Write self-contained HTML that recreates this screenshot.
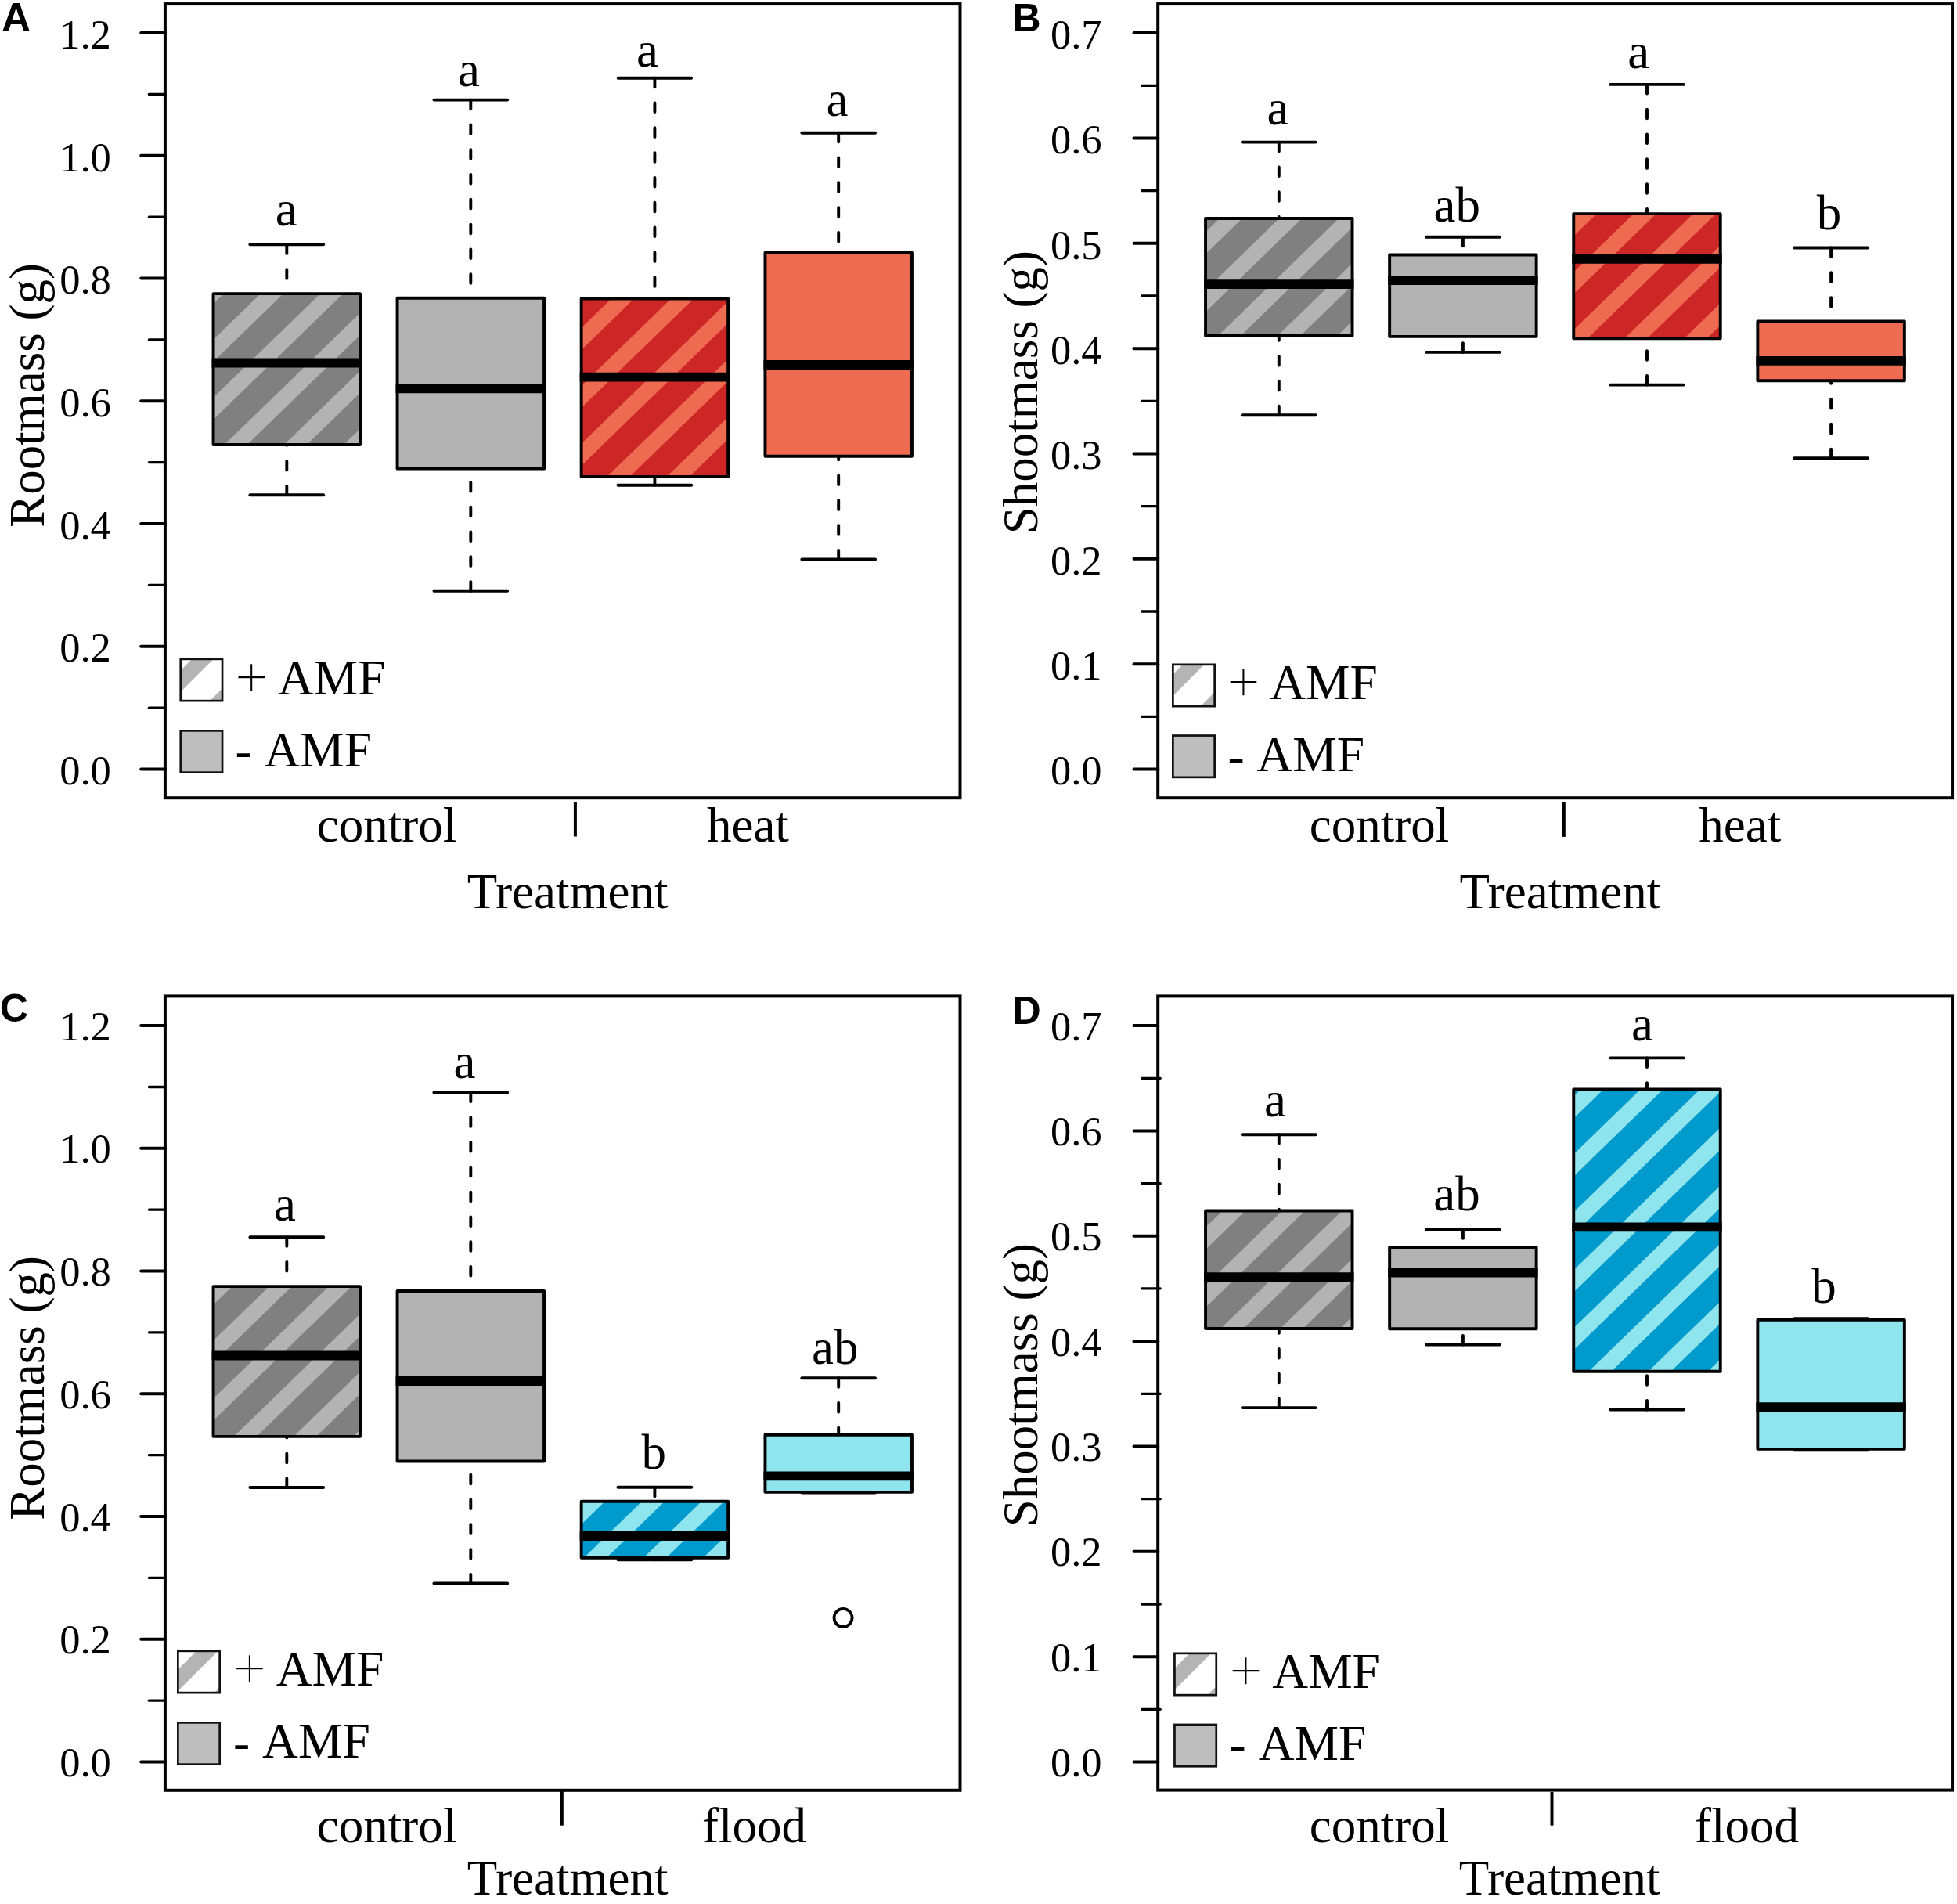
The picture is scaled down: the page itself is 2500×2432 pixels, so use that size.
<!DOCTYPE html>
<html lang="en">
<head>
<meta charset="utf-8">
<title>Root and shoot mass boxplots</title>
<style>html,body{margin:0;padding:0;background:#fff}svg{display:block}</style>
</head>
<body>
<svg width="2500" height="2432" viewBox="0 0 2500 2432">
<rect width="2500" height="2432" fill="#fff"/>
<defs>
<clipPath id="c1"><rect x="272.55" y="375.15" width="187.5" height="192.8"/></clipPath>
<clipPath id="c2"><rect x="742.65" y="381.55" width="187.5" height="227.5"/></clipPath>
<clipPath id="c3"><rect x="230.75" y="841.85" width="53.3" height="53.3"/></clipPath>
<clipPath id="c4"><rect x="1540.05" y="278.95" width="187.5" height="150.1"/></clipPath>
<clipPath id="c5"><rect x="2010.25" y="273.15" width="187.5" height="159.1"/></clipPath>
<clipPath id="c6"><rect x="1498.35" y="848.85" width="53.3" height="53.3"/></clipPath>
<clipPath id="c7"><rect x="272.55" y="1643.15" width="187.5" height="191.7"/></clipPath>
<clipPath id="c8"><rect x="742.65" y="1917.75" width="187.5" height="72.1"/></clipPath>
<clipPath id="c9"><rect x="227.35" y="2108.85" width="53.3" height="53.3"/></clipPath>
<clipPath id="c10"><rect x="1540.05" y="1546.45" width="187.5" height="150.6"/></clipPath>
<clipPath id="c11"><rect x="2010.25" y="1391.55" width="187.5" height="360.2"/></clipPath>
<clipPath id="c12"><rect x="1500.45" y="2111.85" width="53.3" height="53.3"/></clipPath>
</defs>
<rect x="210.9" y="5.1" width="1015.6" height="1014.1" fill="none" stroke="#000" stroke-width="4"/>
<line x1="180.2" y1="982.5" x2="210.9" y2="982.5" stroke="#000" stroke-width="4" stroke-linecap="round"/>
<text x="141.8" y="1002.2" font-family='"Liberation Serif", "Times New Roman", Times, serif' font-size="52.5" font-weight="normal" text-anchor="end">0.0</text>
<line x1="190.4" y1="904.13" x2="210.9" y2="904.13" stroke="#000" stroke-width="3.3" stroke-linecap="round"/>
<line x1="180.2" y1="825.77" x2="210.9" y2="825.77" stroke="#000" stroke-width="4" stroke-linecap="round"/>
<text x="141.8" y="845.47" font-family='"Liberation Serif", "Times New Roman", Times, serif' font-size="52.5" font-weight="normal" text-anchor="end">0.2</text>
<line x1="190.4" y1="747.4" x2="210.9" y2="747.4" stroke="#000" stroke-width="3.3" stroke-linecap="round"/>
<line x1="180.2" y1="669.04" x2="210.9" y2="669.04" stroke="#000" stroke-width="4" stroke-linecap="round"/>
<text x="141.8" y="688.74" font-family='"Liberation Serif", "Times New Roman", Times, serif' font-size="52.5" font-weight="normal" text-anchor="end">0.4</text>
<line x1="190.4" y1="590.67" x2="210.9" y2="590.67" stroke="#000" stroke-width="3.3" stroke-linecap="round"/>
<line x1="180.2" y1="512.31" x2="210.9" y2="512.31" stroke="#000" stroke-width="4" stroke-linecap="round"/>
<text x="141.8" y="532.01" font-family='"Liberation Serif", "Times New Roman", Times, serif' font-size="52.5" font-weight="normal" text-anchor="end">0.6</text>
<line x1="190.4" y1="433.95" x2="210.9" y2="433.95" stroke="#000" stroke-width="3.3" stroke-linecap="round"/>
<line x1="180.2" y1="355.58" x2="210.9" y2="355.58" stroke="#000" stroke-width="4" stroke-linecap="round"/>
<text x="141.8" y="375.28" font-family='"Liberation Serif", "Times New Roman", Times, serif' font-size="52.5" font-weight="normal" text-anchor="end">0.8</text>
<line x1="190.4" y1="277.22" x2="210.9" y2="277.22" stroke="#000" stroke-width="3.3" stroke-linecap="round"/>
<line x1="180.2" y1="198.85" x2="210.9" y2="198.85" stroke="#000" stroke-width="4" stroke-linecap="round"/>
<text x="141.8" y="218.55" font-family='"Liberation Serif", "Times New Roman", Times, serif' font-size="52.5" font-weight="normal" text-anchor="end">1.0</text>
<line x1="190.4" y1="120.49" x2="210.9" y2="120.49" stroke="#000" stroke-width="3.3" stroke-linecap="round"/>
<line x1="180.2" y1="42.12" x2="210.9" y2="42.12" stroke="#000" stroke-width="4" stroke-linecap="round"/>
<text x="141.8" y="61.82" font-family='"Liberation Serif", "Times New Roman", Times, serif' font-size="52.5" font-weight="normal" text-anchor="end">1.2</text>
<text x="2" y="40.2" font-family='"Liberation Sans", Arial, Helvetica, sans-serif' font-size="51.5" font-weight="bold" text-anchor="start">A</text>
<text x="55.5" y="505" font-family='"Liberation Serif", "Times New Roman", Times, serif' font-size="63" font-weight="normal" text-anchor="middle" transform="rotate(-90 55.5 505)">Rootmass (g)</text>
<line x1="366.3" y1="312.3" x2="366.3" y2="375.15" stroke="#000" stroke-width="3.9" stroke-linecap="round" stroke-dasharray="11.6 20.2"/>
<line x1="366.3" y1="632.3" x2="366.3" y2="567.95" stroke="#000" stroke-width="3.9" stroke-linecap="round" stroke-dasharray="11.6 20.2"/>
<line x1="319.43" y1="312.3" x2="413.18" y2="312.3" stroke="#000" stroke-width="3.9" stroke-linecap="round"/>
<line x1="319.43" y1="632.3" x2="413.18" y2="632.3" stroke="#000" stroke-width="3.9" stroke-linecap="round"/>
<rect x="272.55" y="375.15" width="187.5" height="192.8" fill="#808080"/>
<g clip-path="url(#c1)" stroke="#b3b3b3" stroke-width="20.2">
<line x1="225.94" y1="345.15" x2="-34.45" y2="597.95"/>
<line x1="302.14" y1="345.15" x2="41.75" y2="597.95"/>
<line x1="378.34" y1="345.15" x2="117.95" y2="597.95"/>
<line x1="454.54" y1="345.15" x2="194.15" y2="597.95"/>
<line x1="530.74" y1="345.15" x2="270.35" y2="597.95"/>
<line x1="606.94" y1="345.15" x2="346.55" y2="597.95"/>
<line x1="683.14" y1="345.15" x2="422.75" y2="597.95"/>
<line x1="759.34" y1="345.15" x2="498.95" y2="597.95"/>
</g>
<rect x="272.55" y="375.15" width="187.5" height="192.8" fill="none" stroke="#000" stroke-width="3.9" stroke-linejoin="round"/>
<line x1="270.6" y1="463.5" x2="462" y2="463.5" stroke="#000" stroke-width="11.8" stroke-linecap="butt"/>
<line x1="601.3" y1="127.6" x2="601.3" y2="380.75" stroke="#000" stroke-width="3.9" stroke-linecap="round" stroke-dasharray="11.6 20.2"/>
<line x1="601.3" y1="754.7" x2="601.3" y2="598.65" stroke="#000" stroke-width="3.9" stroke-linecap="round" stroke-dasharray="11.6 20.2"/>
<line x1="554.42" y1="127.6" x2="648.17" y2="127.6" stroke="#000" stroke-width="3.9" stroke-linecap="round"/>
<line x1="554.42" y1="754.7" x2="648.17" y2="754.7" stroke="#000" stroke-width="3.9" stroke-linecap="round"/>
<rect x="507.55" y="380.75" width="187.5" height="217.9" fill="#b3b3b3" stroke="#000" stroke-width="3.9" stroke-linejoin="round"/>
<line x1="505.6" y1="496.3" x2="697" y2="496.3" stroke="#000" stroke-width="11.8" stroke-linecap="butt"/>
<line x1="836.4" y1="99.7" x2="836.4" y2="381.55" stroke="#000" stroke-width="3.9" stroke-linecap="round" stroke-dasharray="11.6 20.2"/>
<line x1="836.4" y1="619.7" x2="836.4" y2="609.05" stroke="#000" stroke-width="3.9" stroke-linecap="round" stroke-dasharray="11.6 20.2"/>
<line x1="789.52" y1="99.7" x2="883.27" y2="99.7" stroke="#000" stroke-width="3.9" stroke-linecap="round"/>
<line x1="789.52" y1="619.7" x2="883.27" y2="619.7" stroke="#000" stroke-width="3.9" stroke-linecap="round"/>
<rect x="742.65" y="381.55" width="187.5" height="227.5" fill="#cd2626"/>
<g clip-path="url(#c2)" stroke="#ee6a50" stroke-width="20.2">
<line x1="674" y1="351.55" x2="377.88" y2="639.05"/>
<line x1="750.2" y1="351.55" x2="454.08" y2="639.05"/>
<line x1="826.4" y1="351.55" x2="530.28" y2="639.05"/>
<line x1="902.6" y1="351.55" x2="606.48" y2="639.05"/>
<line x1="978.8" y1="351.55" x2="682.68" y2="639.05"/>
<line x1="1055" y1="351.55" x2="758.88" y2="639.05"/>
<line x1="1131.2" y1="351.55" x2="835.08" y2="639.05"/>
<line x1="1207.4" y1="351.55" x2="911.28" y2="639.05"/>
<line x1="1283.6" y1="351.55" x2="987.48" y2="639.05"/>
</g>
<rect x="742.65" y="381.55" width="187.5" height="227.5" fill="none" stroke="#000" stroke-width="3.9" stroke-linejoin="round"/>
<line x1="740.7" y1="481.6" x2="932.1" y2="481.6" stroke="#000" stroke-width="11.8" stroke-linecap="butt"/>
<line x1="1071.2" y1="169.7" x2="1071.2" y2="322.65" stroke="#000" stroke-width="3.9" stroke-linecap="round" stroke-dasharray="11.6 20.2"/>
<line x1="1071.2" y1="714.5" x2="1071.2" y2="582.75" stroke="#000" stroke-width="3.9" stroke-linecap="round" stroke-dasharray="11.6 20.2"/>
<line x1="1024.33" y1="169.7" x2="1118.08" y2="169.7" stroke="#000" stroke-width="3.9" stroke-linecap="round"/>
<line x1="1024.33" y1="714.5" x2="1118.08" y2="714.5" stroke="#000" stroke-width="3.9" stroke-linecap="round"/>
<rect x="977.45" y="322.65" width="187.5" height="260.1" fill="#ee6a50" stroke="#000" stroke-width="3.9" stroke-linejoin="round"/>
<line x1="975.5" y1="466" x2="1166.9" y2="466" stroke="#000" stroke-width="11.8" stroke-linecap="butt"/>
<text x="365.8" y="287.8" font-family='"Liberation Serif", "Times New Roman", Times, serif' font-size="63" font-weight="normal" text-anchor="middle">a</text>
<text x="598.9" y="109.8" font-family='"Liberation Serif", "Times New Roman", Times, serif' font-size="63" font-weight="normal" text-anchor="middle">a</text>
<text x="827" y="84.8" font-family='"Liberation Serif", "Times New Roman", Times, serif' font-size="63" font-weight="normal" text-anchor="middle">a</text>
<text x="1069.6" y="148" font-family='"Liberation Serif", "Times New Roman", Times, serif' font-size="63" font-weight="normal" text-anchor="middle">a</text>
<rect x="230.75" y="841.85" width="53.3" height="53.3" fill="#fff"/>
<rect x="230.75" y="841.85" width="53.3" height="53.3" fill="#fff"/>
<g clip-path="url(#c3)" stroke="#b4b4b4" stroke-width="19.45">
<line x1="212.75" y1="811.85" x2="99.45" y2="925.15"/>
<line x1="288.95" y1="811.85" x2="175.65" y2="925.15"/>
<line x1="365.15" y1="811.85" x2="251.85" y2="925.15"/>
<line x1="441.35" y1="811.85" x2="328.05" y2="925.15"/>
</g>
<rect x="230.75" y="841.85" width="53.3" height="53.3" fill="none" stroke="#111" stroke-width="2.7"/>
<rect x="230.75" y="933.35" width="53.3" height="53.3" fill="#bebebe" stroke="#111" stroke-width="2.7"/>
<text x="299.8" y="886.7" font-family='"Liberation Serif", "Times New Roman", Times, serif' font-size="63.5"><tspan font-size="76" dy="3.0" stroke="#fff" stroke-width="1.7">+ </tspan><tspan x="355" dy="-3.0">AMF</tspan></text>
<text x="300.4" y="978.7" font-family='"Liberation Serif", "Times New Roman", Times, serif' font-size="63.5"><tspan dy="1.4">- </tspan><tspan x="337.5" dy="-1.4">AMF</tspan></text>
<line x1="734.9" y1="1024" x2="734.9" y2="1068.5" stroke="#000" stroke-width="4" stroke-linecap="butt"/>
<text x="494" y="1075" font-family='"Liberation Serif", "Times New Roman", Times, serif' font-size="63" font-weight="normal" text-anchor="middle">control</text>
<text x="955.4" y="1074.7" font-family='"Liberation Serif", "Times New Roman", Times, serif' font-size="63" font-weight="normal" text-anchor="middle">heat</text>
<text x="725.2" y="1160" font-family='"Liberation Serif", "Times New Roman", Times, serif' font-size="63" font-weight="normal" text-anchor="middle">Treatment</text>
<rect x="1479.2" y="5.1" width="1014.85" height="1014.1" fill="none" stroke="#000" stroke-width="4"/>
<line x1="1448.5" y1="982.5" x2="1479.2" y2="982.5" stroke="#000" stroke-width="4" stroke-linecap="round"/>
<text x="1407.5" y="1002.2" font-family='"Liberation Serif", "Times New Roman", Times, serif' font-size="52.5" font-weight="normal" text-anchor="end">0.0</text>
<line x1="1458.7" y1="915.33" x2="1479.2" y2="915.33" stroke="#000" stroke-width="3.3" stroke-linecap="round"/>
<line x1="1448.5" y1="848.16" x2="1479.2" y2="848.16" stroke="#000" stroke-width="4" stroke-linecap="round"/>
<text x="1407.5" y="867.86" font-family='"Liberation Serif", "Times New Roman", Times, serif' font-size="52.5" font-weight="normal" text-anchor="end">0.1</text>
<line x1="1458.7" y1="780.99" x2="1479.2" y2="780.99" stroke="#000" stroke-width="3.3" stroke-linecap="round"/>
<line x1="1448.5" y1="713.82" x2="1479.2" y2="713.82" stroke="#000" stroke-width="4" stroke-linecap="round"/>
<text x="1407.5" y="733.52" font-family='"Liberation Serif", "Times New Roman", Times, serif' font-size="52.5" font-weight="normal" text-anchor="end">0.2</text>
<line x1="1458.7" y1="646.65" x2="1479.2" y2="646.65" stroke="#000" stroke-width="3.3" stroke-linecap="round"/>
<line x1="1448.5" y1="579.48" x2="1479.2" y2="579.48" stroke="#000" stroke-width="4" stroke-linecap="round"/>
<text x="1407.5" y="599.18" font-family='"Liberation Serif", "Times New Roman", Times, serif' font-size="52.5" font-weight="normal" text-anchor="end">0.3</text>
<line x1="1458.7" y1="512.31" x2="1479.2" y2="512.31" stroke="#000" stroke-width="3.3" stroke-linecap="round"/>
<line x1="1448.5" y1="445.14" x2="1479.2" y2="445.14" stroke="#000" stroke-width="4" stroke-linecap="round"/>
<text x="1407.5" y="464.84" font-family='"Liberation Serif", "Times New Roman", Times, serif' font-size="52.5" font-weight="normal" text-anchor="end">0.4</text>
<line x1="1458.7" y1="377.97" x2="1479.2" y2="377.97" stroke="#000" stroke-width="3.3" stroke-linecap="round"/>
<line x1="1448.5" y1="310.8" x2="1479.2" y2="310.8" stroke="#000" stroke-width="4" stroke-linecap="round"/>
<text x="1407.5" y="330.5" font-family='"Liberation Serif", "Times New Roman", Times, serif' font-size="52.5" font-weight="normal" text-anchor="end">0.5</text>
<line x1="1458.7" y1="243.63" x2="1479.2" y2="243.63" stroke="#000" stroke-width="3.3" stroke-linecap="round"/>
<line x1="1448.5" y1="176.46" x2="1479.2" y2="176.46" stroke="#000" stroke-width="4" stroke-linecap="round"/>
<text x="1407.5" y="196.16" font-family='"Liberation Serif", "Times New Roman", Times, serif' font-size="52.5" font-weight="normal" text-anchor="end">0.6</text>
<line x1="1458.7" y1="109.29" x2="1479.2" y2="109.29" stroke="#000" stroke-width="3.3" stroke-linecap="round"/>
<line x1="1448.5" y1="42.12" x2="1479.2" y2="42.12" stroke="#000" stroke-width="4" stroke-linecap="round"/>
<text x="1407.5" y="61.82" font-family='"Liberation Serif", "Times New Roman", Times, serif' font-size="52.5" font-weight="normal" text-anchor="end">0.7</text>
<text x="1293.3" y="40.2" font-family='"Liberation Sans", Arial, Helvetica, sans-serif' font-size="50.5" font-weight="bold" text-anchor="start">B</text>
<text x="1325" y="501.1" font-family='"Liberation Serif", "Times New Roman", Times, serif' font-size="63" font-weight="normal" text-anchor="middle" transform="rotate(-90 1325 501.1)">Shootmass (g)</text>
<line x1="1633.8" y1="181.6" x2="1633.8" y2="278.95" stroke="#000" stroke-width="3.9" stroke-linecap="round" stroke-dasharray="11.6 20.2"/>
<line x1="1633.8" y1="530.2" x2="1633.8" y2="429.05" stroke="#000" stroke-width="3.9" stroke-linecap="round" stroke-dasharray="11.6 20.2"/>
<line x1="1586.92" y1="181.6" x2="1680.67" y2="181.6" stroke="#000" stroke-width="3.9" stroke-linecap="round"/>
<line x1="1586.92" y1="530.2" x2="1680.67" y2="530.2" stroke="#000" stroke-width="3.9" stroke-linecap="round"/>
<rect x="1540.05" y="278.95" width="187.5" height="150.1" fill="#808080"/>
<g clip-path="url(#c4)" stroke="#b3b3b3" stroke-width="20.2">
<line x1="1527.23" y1="248.95" x2="1310.83" y2="459.05"/>
<line x1="1603.43" y1="248.95" x2="1387.03" y2="459.05"/>
<line x1="1679.63" y1="248.95" x2="1463.23" y2="459.05"/>
<line x1="1755.83" y1="248.95" x2="1539.43" y2="459.05"/>
<line x1="1832.03" y1="248.95" x2="1615.63" y2="459.05"/>
<line x1="1908.23" y1="248.95" x2="1691.83" y2="459.05"/>
<line x1="1984.43" y1="248.95" x2="1768.03" y2="459.05"/>
</g>
<rect x="1540.05" y="278.95" width="187.5" height="150.1" fill="none" stroke="#000" stroke-width="3.9" stroke-linejoin="round"/>
<line x1="1538.1" y1="363.1" x2="1729.5" y2="363.1" stroke="#000" stroke-width="11.8" stroke-linecap="butt"/>
<line x1="1868.9" y1="302.7" x2="1868.9" y2="325.45" stroke="#000" stroke-width="3.9" stroke-linecap="round" stroke-dasharray="11.6 20.2"/>
<line x1="1868.9" y1="449.9" x2="1868.9" y2="429.85" stroke="#000" stroke-width="3.9" stroke-linecap="round" stroke-dasharray="11.6 20.2"/>
<line x1="1822.03" y1="302.7" x2="1915.78" y2="302.7" stroke="#000" stroke-width="3.9" stroke-linecap="round"/>
<line x1="1822.03" y1="449.9" x2="1915.78" y2="449.9" stroke="#000" stroke-width="3.9" stroke-linecap="round"/>
<rect x="1775.15" y="325.45" width="187.5" height="104.4" fill="#b3b3b3" stroke="#000" stroke-width="3.9" stroke-linejoin="round"/>
<line x1="1773.2" y1="358.2" x2="1964.6" y2="358.2" stroke="#000" stroke-width="11.8" stroke-linecap="butt"/>
<line x1="2104" y1="107.9" x2="2104" y2="273.15" stroke="#000" stroke-width="3.9" stroke-linecap="round" stroke-dasharray="11.6 20.2"/>
<line x1="2104" y1="491.6" x2="2104" y2="432.25" stroke="#000" stroke-width="3.9" stroke-linecap="round" stroke-dasharray="11.6 20.2"/>
<line x1="2057.12" y1="107.9" x2="2150.88" y2="107.9" stroke="#000" stroke-width="3.9" stroke-linecap="round"/>
<line x1="2057.12" y1="491.6" x2="2150.88" y2="491.6" stroke="#000" stroke-width="3.9" stroke-linecap="round"/>
<rect x="2010.25" y="273.15" width="187.5" height="159.1" fill="#cd2626"/>
<g clip-path="url(#c5)" stroke="#ee6a50" stroke-width="20.2">
<line x1="1979.73" y1="243.15" x2="1754.05" y2="462.25"/>
<line x1="2055.93" y1="243.15" x2="1830.25" y2="462.25"/>
<line x1="2132.13" y1="243.15" x2="1906.45" y2="462.25"/>
<line x1="2208.33" y1="243.15" x2="1982.65" y2="462.25"/>
<line x1="2284.53" y1="243.15" x2="2058.85" y2="462.25"/>
<line x1="2360.73" y1="243.15" x2="2135.05" y2="462.25"/>
<line x1="2436.93" y1="243.15" x2="2211.25" y2="462.25"/>
</g>
<rect x="2010.25" y="273.15" width="187.5" height="159.1" fill="none" stroke="#000" stroke-width="3.9" stroke-linejoin="round"/>
<line x1="2008.3" y1="330.8" x2="2199.7" y2="330.8" stroke="#000" stroke-width="11.8" stroke-linecap="butt"/>
<line x1="2339.1" y1="316.5" x2="2339.1" y2="410.45" stroke="#000" stroke-width="3.9" stroke-linecap="round" stroke-dasharray="11.6 20.2"/>
<line x1="2339.1" y1="585.2" x2="2339.1" y2="486.25" stroke="#000" stroke-width="3.9" stroke-linecap="round" stroke-dasharray="11.6 20.2"/>
<line x1="2292.22" y1="316.5" x2="2385.97" y2="316.5" stroke="#000" stroke-width="3.9" stroke-linecap="round"/>
<line x1="2292.22" y1="585.2" x2="2385.97" y2="585.2" stroke="#000" stroke-width="3.9" stroke-linecap="round"/>
<rect x="2245.35" y="410.45" width="187.5" height="75.8" fill="#ee6a50" stroke="#000" stroke-width="3.9" stroke-linejoin="round"/>
<line x1="2243.4" y1="460.8" x2="2434.8" y2="460.8" stroke="#000" stroke-width="11.8" stroke-linecap="butt"/>
<text x="1632.4" y="158.9" font-family='"Liberation Serif", "Times New Roman", Times, serif' font-size="63" font-weight="normal" text-anchor="middle">a</text>
<text x="1861.3" y="283.2" font-family='"Liberation Serif", "Times New Roman", Times, serif' font-size="63" font-weight="normal" text-anchor="middle">ab</text>
<text x="2093.3" y="87" font-family='"Liberation Serif", "Times New Roman", Times, serif' font-size="63" font-weight="normal" text-anchor="middle">a</text>
<text x="2336.5" y="293.1" font-family='"Liberation Serif", "Times New Roman", Times, serif' font-size="63" font-weight="normal" text-anchor="middle">b</text>
<rect x="1498.35" y="848.85" width="53.3" height="53.3" fill="#fff"/>
<rect x="1498.35" y="848.85" width="53.3" height="53.3" fill="#fff"/>
<g clip-path="url(#c6)" stroke="#b4b4b4" stroke-width="19.45">
<line x1="1478.35" y1="818.85" x2="1365.05" y2="932.15"/>
<line x1="1554.55" y1="818.85" x2="1441.25" y2="932.15"/>
<line x1="1630.75" y1="818.85" x2="1517.45" y2="932.15"/>
<line x1="1706.95" y1="818.85" x2="1593.65" y2="932.15"/>
</g>
<rect x="1498.35" y="848.85" width="53.3" height="53.3" fill="none" stroke="#111" stroke-width="2.7"/>
<rect x="1498.35" y="939.55" width="53.3" height="53.3" fill="#bebebe" stroke="#111" stroke-width="2.7"/>
<text x="1567" y="893" font-family='"Liberation Serif", "Times New Roman", Times, serif' font-size="63.5"><tspan font-size="76" dy="3.0" stroke="#fff" stroke-width="1.7">+ </tspan><tspan x="1622.2" dy="-3.0">AMF</tspan></text>
<text x="1568.4" y="985.2" font-family='"Liberation Serif", "Times New Roman", Times, serif' font-size="63.5"><tspan dy="1.4">- </tspan><tspan x="1605.5" dy="-1.4">AMF</tspan></text>
<line x1="1997.8" y1="1024.2" x2="1997.8" y2="1068.9" stroke="#000" stroke-width="4" stroke-linecap="butt"/>
<text x="1762.1" y="1074.7" font-family='"Liberation Serif", "Times New Roman", Times, serif' font-size="63" font-weight="normal" text-anchor="middle">control</text>
<text x="2222.7" y="1074.7" font-family='"Liberation Serif", "Times New Roman", Times, serif' font-size="63" font-weight="normal" text-anchor="middle">heat</text>
<text x="1992.9" y="1160" font-family='"Liberation Serif", "Times New Roman", Times, serif' font-size="63" font-weight="normal" text-anchor="middle">Treatment</text>
<rect x="210.9" y="1272.4" width="1015.6" height="1014.4" fill="none" stroke="#000" stroke-width="4"/>
<line x1="180.2" y1="2250.5" x2="210.9" y2="2250.5" stroke="#000" stroke-width="4" stroke-linecap="round"/>
<text x="141.8" y="2269" font-family='"Liberation Serif", "Times New Roman", Times, serif' font-size="52.5" font-weight="normal" text-anchor="end">0.0</text>
<line x1="190.4" y1="2172.14" x2="210.9" y2="2172.14" stroke="#000" stroke-width="3.3" stroke-linecap="round"/>
<line x1="180.2" y1="2093.77" x2="210.9" y2="2093.77" stroke="#000" stroke-width="4" stroke-linecap="round"/>
<text x="141.8" y="2112.27" font-family='"Liberation Serif", "Times New Roman", Times, serif' font-size="52.5" font-weight="normal" text-anchor="end">0.2</text>
<line x1="190.4" y1="2015.4" x2="210.9" y2="2015.4" stroke="#000" stroke-width="3.3" stroke-linecap="round"/>
<line x1="180.2" y1="1937.04" x2="210.9" y2="1937.04" stroke="#000" stroke-width="4" stroke-linecap="round"/>
<text x="141.8" y="1955.54" font-family='"Liberation Serif", "Times New Roman", Times, serif' font-size="52.5" font-weight="normal" text-anchor="end">0.4</text>
<line x1="190.4" y1="1858.67" x2="210.9" y2="1858.67" stroke="#000" stroke-width="3.3" stroke-linecap="round"/>
<line x1="180.2" y1="1780.31" x2="210.9" y2="1780.31" stroke="#000" stroke-width="4" stroke-linecap="round"/>
<text x="141.8" y="1798.81" font-family='"Liberation Serif", "Times New Roman", Times, serif' font-size="52.5" font-weight="normal" text-anchor="end">0.6</text>
<line x1="190.4" y1="1701.94" x2="210.9" y2="1701.94" stroke="#000" stroke-width="3.3" stroke-linecap="round"/>
<line x1="180.2" y1="1623.58" x2="210.9" y2="1623.58" stroke="#000" stroke-width="4" stroke-linecap="round"/>
<text x="141.8" y="1642.08" font-family='"Liberation Serif", "Times New Roman", Times, serif' font-size="52.5" font-weight="normal" text-anchor="end">0.8</text>
<line x1="190.4" y1="1545.21" x2="210.9" y2="1545.21" stroke="#000" stroke-width="3.3" stroke-linecap="round"/>
<line x1="180.2" y1="1466.85" x2="210.9" y2="1466.85" stroke="#000" stroke-width="4" stroke-linecap="round"/>
<text x="141.8" y="1485.35" font-family='"Liberation Serif", "Times New Roman", Times, serif' font-size="52.5" font-weight="normal" text-anchor="end">1.0</text>
<line x1="190.4" y1="1388.48" x2="210.9" y2="1388.48" stroke="#000" stroke-width="3.3" stroke-linecap="round"/>
<line x1="180.2" y1="1310.12" x2="210.9" y2="1310.12" stroke="#000" stroke-width="4" stroke-linecap="round"/>
<text x="141.8" y="1328.62" font-family='"Liberation Serif", "Times New Roman", Times, serif' font-size="52.5" font-weight="normal" text-anchor="end">1.2</text>
<text x="-0.3" y="1305.4" font-family='"Liberation Sans", Arial, Helvetica, sans-serif' font-size="50.5" font-weight="bold" text-anchor="start">C</text>
<text x="55.5" y="1773" font-family='"Liberation Serif", "Times New Roman", Times, serif' font-size="63" font-weight="normal" text-anchor="middle" transform="rotate(-90 55.5 1773)">Rootmass (g)</text>
<line x1="366.3" y1="1580.2" x2="366.3" y2="1643.15" stroke="#000" stroke-width="3.9" stroke-linecap="round" stroke-dasharray="11.6 20.2"/>
<line x1="366.3" y1="1900" x2="366.3" y2="1834.85" stroke="#000" stroke-width="3.9" stroke-linecap="round" stroke-dasharray="11.6 20.2"/>
<line x1="319.43" y1="1580.2" x2="413.18" y2="1580.2" stroke="#000" stroke-width="3.9" stroke-linecap="round"/>
<line x1="319.43" y1="1900" x2="413.18" y2="1900" stroke="#000" stroke-width="3.9" stroke-linecap="round"/>
<rect x="272.55" y="1643.15" width="187.5" height="191.7" fill="#808080"/>
<g clip-path="url(#c7)" stroke="#b3b3b3" stroke-width="20.2">
<line x1="236.82" y1="1613.15" x2="-22.44" y2="1864.85"/>
<line x1="313.02" y1="1613.15" x2="53.76" y2="1864.85"/>
<line x1="389.22" y1="1613.15" x2="129.96" y2="1864.85"/>
<line x1="465.42" y1="1613.15" x2="206.16" y2="1864.85"/>
<line x1="541.62" y1="1613.15" x2="282.36" y2="1864.85"/>
<line x1="617.82" y1="1613.15" x2="358.56" y2="1864.85"/>
<line x1="694.02" y1="1613.15" x2="434.76" y2="1864.85"/>
<line x1="770.22" y1="1613.15" x2="510.96" y2="1864.85"/>
</g>
<rect x="272.55" y="1643.15" width="187.5" height="191.7" fill="none" stroke="#000" stroke-width="3.9" stroke-linejoin="round"/>
<line x1="270.6" y1="1731.5" x2="462" y2="1731.5" stroke="#000" stroke-width="11.8" stroke-linecap="butt"/>
<line x1="601.3" y1="1395.4" x2="601.3" y2="1648.95" stroke="#000" stroke-width="3.9" stroke-linecap="round" stroke-dasharray="11.6 20.2"/>
<line x1="601.3" y1="2022.5" x2="601.3" y2="1866.45" stroke="#000" stroke-width="3.9" stroke-linecap="round" stroke-dasharray="11.6 20.2"/>
<line x1="554.42" y1="1395.4" x2="648.17" y2="1395.4" stroke="#000" stroke-width="3.9" stroke-linecap="round"/>
<line x1="554.42" y1="2022.5" x2="648.17" y2="2022.5" stroke="#000" stroke-width="3.9" stroke-linecap="round"/>
<rect x="507.55" y="1648.95" width="187.5" height="217.5" fill="#b3b3b3" stroke="#000" stroke-width="3.9" stroke-linejoin="round"/>
<line x1="505.6" y1="1764" x2="697" y2="1764" stroke="#000" stroke-width="11.8" stroke-linecap="butt"/>
<line x1="836.4" y1="1899.7" x2="836.4" y2="1917.75" stroke="#000" stroke-width="3.9" stroke-linecap="round" stroke-dasharray="11.6 20.2"/>
<line x1="836.4" y1="1992.2" x2="836.4" y2="1989.85" stroke="#000" stroke-width="3.9" stroke-linecap="round" stroke-dasharray="11.6 20.2"/>
<line x1="789.52" y1="1899.7" x2="883.27" y2="1899.7" stroke="#000" stroke-width="3.9" stroke-linecap="round"/>
<line x1="789.52" y1="1992.2" x2="883.27" y2="1992.2" stroke="#000" stroke-width="3.9" stroke-linecap="round"/>
<rect x="742.65" y="1917.75" width="187.5" height="72.1" fill="#009acd"/>
<g clip-path="url(#c8)" stroke="#8ee5ee" stroke-width="20.2">
<line x1="713.04" y1="1887.75" x2="576.97" y2="2019.85"/>
<line x1="789.24" y1="1887.75" x2="653.17" y2="2019.85"/>
<line x1="865.44" y1="1887.75" x2="729.37" y2="2019.85"/>
<line x1="941.64" y1="1887.75" x2="805.57" y2="2019.85"/>
<line x1="1017.84" y1="1887.75" x2="881.77" y2="2019.85"/>
<line x1="1094.04" y1="1887.75" x2="957.97" y2="2019.85"/>
</g>
<rect x="742.65" y="1917.75" width="187.5" height="72.1" fill="none" stroke="#000" stroke-width="3.9" stroke-linejoin="round"/>
<line x1="740.7" y1="1962" x2="932.1" y2="1962" stroke="#000" stroke-width="11.8" stroke-linecap="butt"/>
<line x1="1071.2" y1="1760.2" x2="1071.2" y2="1832.75" stroke="#000" stroke-width="3.9" stroke-linecap="round" stroke-dasharray="11.6 20.2"/>
<line x1="1024.33" y1="1760.2" x2="1118.08" y2="1760.2" stroke="#000" stroke-width="3.9" stroke-linecap="round"/>
<line x1="1024.33" y1="1906.5" x2="1118.08" y2="1906.5" stroke="#000" stroke-width="3.9" stroke-linecap="round"/>
<rect x="977.45" y="1832.75" width="187.5" height="73.1" fill="#8ee5ee" stroke="#000" stroke-width="3.9" stroke-linejoin="round"/>
<line x1="975.5" y1="1885.3" x2="1166.9" y2="1885.3" stroke="#000" stroke-width="11.8" stroke-linecap="butt"/>
<circle cx="1077.05" cy="2066.4" r="11.5" fill="none" stroke="#000" stroke-width="3.8"/>
<text x="364" y="1559.4" font-family='"Liberation Serif", "Times New Roman", Times, serif' font-size="63" font-weight="normal" text-anchor="middle">a</text>
<text x="593.5" y="1376.5" font-family='"Liberation Serif", "Times New Roman", Times, serif' font-size="63" font-weight="normal" text-anchor="middle">a</text>
<text x="835.2" y="1876" font-family='"Liberation Serif", "Times New Roman", Times, serif' font-size="63" font-weight="normal" text-anchor="middle">b</text>
<text x="1066.7" y="1742" font-family='"Liberation Serif", "Times New Roman", Times, serif' font-size="63" font-weight="normal" text-anchor="middle">ab</text>
<rect x="227.35" y="2108.85" width="53.3" height="53.3" fill="#fff"/>
<rect x="227.35" y="2108.85" width="53.3" height="53.3" fill="#fff"/>
<g clip-path="url(#c9)" stroke="#b4b4b4" stroke-width="19.45">
<line x1="218.55" y1="2078.85" x2="105.25" y2="2192.15"/>
<line x1="294.75" y1="2078.85" x2="181.45" y2="2192.15"/>
<line x1="370.95" y1="2078.85" x2="257.65" y2="2192.15"/>
<line x1="447.15" y1="2078.85" x2="333.85" y2="2192.15"/>
</g>
<rect x="227.35" y="2108.85" width="53.3" height="53.3" fill="none" stroke="#111" stroke-width="2.7"/>
<rect x="227.35" y="2200.35" width="53.3" height="53.3" fill="#bebebe" stroke="#111" stroke-width="2.7"/>
<text x="297.5" y="2152.5" font-family='"Liberation Serif", "Times New Roman", Times, serif' font-size="63.5"><tspan font-size="76" dy="3.0" stroke="#fff" stroke-width="1.7">+ </tspan><tspan x="352.7" dy="-3.0">AMF</tspan></text>
<text x="298" y="2245.2" font-family='"Liberation Serif", "Times New Roman", Times, serif' font-size="63.5"><tspan dy="1.4">- </tspan><tspan x="335.1" dy="-1.4">AMF</tspan></text>
<line x1="717.8" y1="2287" x2="717.8" y2="2331.7" stroke="#000" stroke-width="4" stroke-linecap="butt"/>
<text x="494" y="2352.5" font-family='"Liberation Serif", "Times New Roman", Times, serif' font-size="63" font-weight="normal" text-anchor="middle">control</text>
<text x="963.6" y="2352.8" font-family='"Liberation Serif", "Times New Roman", Times, serif' font-size="63" font-weight="normal" text-anchor="middle">flood</text>
<text x="725.2" y="2419.7" font-family='"Liberation Serif", "Times New Roman", Times, serif' font-size="63" font-weight="normal" text-anchor="middle">Treatment</text>
<rect x="1479.2" y="1272.4" width="1014.85" height="1014.2" fill="none" stroke="#000" stroke-width="4"/>
<line x1="1448.5" y1="2250.5" x2="1479.2" y2="2250.5" stroke="#000" stroke-width="4" stroke-linecap="round"/>
<text x="1407.5" y="2269" font-family='"Liberation Serif", "Times New Roman", Times, serif' font-size="52.5" font-weight="normal" text-anchor="end">0.0</text>
<line x1="1458.7" y1="2183.33" x2="1482.2" y2="2183.33" stroke="#000" stroke-width="3.3" stroke-linecap="round"/>
<line x1="1448.5" y1="2116.16" x2="1479.2" y2="2116.16" stroke="#000" stroke-width="4" stroke-linecap="round"/>
<text x="1407.5" y="2134.66" font-family='"Liberation Serif", "Times New Roman", Times, serif' font-size="52.5" font-weight="normal" text-anchor="end">0.1</text>
<line x1="1458.7" y1="2048.99" x2="1482.2" y2="2048.99" stroke="#000" stroke-width="3.3" stroke-linecap="round"/>
<line x1="1448.5" y1="1981.82" x2="1479.2" y2="1981.82" stroke="#000" stroke-width="4" stroke-linecap="round"/>
<text x="1407.5" y="2000.32" font-family='"Liberation Serif", "Times New Roman", Times, serif' font-size="52.5" font-weight="normal" text-anchor="end">0.2</text>
<line x1="1458.7" y1="1914.65" x2="1482.2" y2="1914.65" stroke="#000" stroke-width="3.3" stroke-linecap="round"/>
<line x1="1448.5" y1="1847.48" x2="1479.2" y2="1847.48" stroke="#000" stroke-width="4" stroke-linecap="round"/>
<text x="1407.5" y="1865.98" font-family='"Liberation Serif", "Times New Roman", Times, serif' font-size="52.5" font-weight="normal" text-anchor="end">0.3</text>
<line x1="1458.7" y1="1780.31" x2="1482.2" y2="1780.31" stroke="#000" stroke-width="3.3" stroke-linecap="round"/>
<line x1="1448.5" y1="1713.14" x2="1479.2" y2="1713.14" stroke="#000" stroke-width="4" stroke-linecap="round"/>
<text x="1407.5" y="1731.64" font-family='"Liberation Serif", "Times New Roman", Times, serif' font-size="52.5" font-weight="normal" text-anchor="end">0.4</text>
<line x1="1458.7" y1="1645.97" x2="1482.2" y2="1645.97" stroke="#000" stroke-width="3.3" stroke-linecap="round"/>
<line x1="1448.5" y1="1578.8" x2="1479.2" y2="1578.8" stroke="#000" stroke-width="4" stroke-linecap="round"/>
<text x="1407.5" y="1597.3" font-family='"Liberation Serif", "Times New Roman", Times, serif' font-size="52.5" font-weight="normal" text-anchor="end">0.5</text>
<line x1="1458.7" y1="1511.63" x2="1482.2" y2="1511.63" stroke="#000" stroke-width="3.3" stroke-linecap="round"/>
<line x1="1448.5" y1="1444.46" x2="1479.2" y2="1444.46" stroke="#000" stroke-width="4" stroke-linecap="round"/>
<text x="1407.5" y="1462.96" font-family='"Liberation Serif", "Times New Roman", Times, serif' font-size="52.5" font-weight="normal" text-anchor="end">0.6</text>
<line x1="1458.7" y1="1377.29" x2="1482.2" y2="1377.29" stroke="#000" stroke-width="3.3" stroke-linecap="round"/>
<line x1="1448.5" y1="1310.12" x2="1479.2" y2="1310.12" stroke="#000" stroke-width="4" stroke-linecap="round"/>
<text x="1407.5" y="1328.62" font-family='"Liberation Serif", "Times New Roman", Times, serif' font-size="52.5" font-weight="normal" text-anchor="end">0.7</text>
<text x="1293.3" y="1308" font-family='"Liberation Sans", Arial, Helvetica, sans-serif' font-size="50.5" font-weight="bold" text-anchor="start">D</text>
<text x="1325" y="1769.1" font-family='"Liberation Serif", "Times New Roman", Times, serif' font-size="63" font-weight="normal" text-anchor="middle" transform="rotate(-90 1325 1769.1)">Shootmass (g)</text>
<line x1="1633.8" y1="1449.2" x2="1633.8" y2="1546.45" stroke="#000" stroke-width="3.9" stroke-linecap="round" stroke-dasharray="11.6 20.2"/>
<line x1="1633.8" y1="1798.1" x2="1633.8" y2="1697.05" stroke="#000" stroke-width="3.9" stroke-linecap="round" stroke-dasharray="11.6 20.2"/>
<line x1="1586.92" y1="1449.2" x2="1680.67" y2="1449.2" stroke="#000" stroke-width="3.9" stroke-linecap="round"/>
<line x1="1586.92" y1="1798.1" x2="1680.67" y2="1798.1" stroke="#000" stroke-width="3.9" stroke-linecap="round"/>
<rect x="1540.05" y="1546.45" width="187.5" height="150.6" fill="#808080"/>
<g clip-path="url(#c10)" stroke="#b3b3b3" stroke-width="20.2">
<line x1="1531.25" y1="1516.45" x2="1314.33" y2="1727.05"/>
<line x1="1607.45" y1="1516.45" x2="1390.53" y2="1727.05"/>
<line x1="1683.65" y1="1516.45" x2="1466.73" y2="1727.05"/>
<line x1="1759.85" y1="1516.45" x2="1542.93" y2="1727.05"/>
<line x1="1836.05" y1="1516.45" x2="1619.13" y2="1727.05"/>
<line x1="1912.25" y1="1516.45" x2="1695.33" y2="1727.05"/>
<line x1="1988.45" y1="1516.45" x2="1771.53" y2="1727.05"/>
</g>
<rect x="1540.05" y="1546.45" width="187.5" height="150.6" fill="none" stroke="#000" stroke-width="3.9" stroke-linejoin="round"/>
<line x1="1538.1" y1="1631.2" x2="1729.5" y2="1631.2" stroke="#000" stroke-width="11.8" stroke-linecap="butt"/>
<line x1="1868.9" y1="1570.2" x2="1868.9" y2="1592.95" stroke="#000" stroke-width="3.9" stroke-linecap="round" stroke-dasharray="11.6 20.2"/>
<line x1="1868.9" y1="1717.5" x2="1868.9" y2="1697.25" stroke="#000" stroke-width="3.9" stroke-linecap="round" stroke-dasharray="11.6 20.2"/>
<line x1="1822.03" y1="1570.2" x2="1915.78" y2="1570.2" stroke="#000" stroke-width="3.9" stroke-linecap="round"/>
<line x1="1822.03" y1="1717.5" x2="1915.78" y2="1717.5" stroke="#000" stroke-width="3.9" stroke-linecap="round"/>
<rect x="1775.15" y="1592.95" width="187.5" height="104.3" fill="#b3b3b3" stroke="#000" stroke-width="3.9" stroke-linejoin="round"/>
<line x1="1773.2" y1="1625.6" x2="1964.6" y2="1625.6" stroke="#000" stroke-width="11.8" stroke-linecap="butt"/>
<line x1="2104" y1="1351.4" x2="2104" y2="1391.55" stroke="#000" stroke-width="3.9" stroke-linecap="round" stroke-dasharray="11.6 20.2"/>
<line x1="2104" y1="1800.5" x2="2104" y2="1751.75" stroke="#000" stroke-width="3.9" stroke-linecap="round" stroke-dasharray="11.6 20.2"/>
<line x1="2057.12" y1="1351.4" x2="2150.88" y2="1351.4" stroke="#000" stroke-width="3.9" stroke-linecap="round"/>
<line x1="2057.12" y1="1800.5" x2="2150.88" y2="1800.5" stroke="#000" stroke-width="3.9" stroke-linecap="round"/>
<rect x="2010.25" y="1391.55" width="187.5" height="360.2" fill="#009acd"/>
<g clip-path="url(#c11)" stroke="#8ee5ee" stroke-width="20.2">
<line x1="1988.5" y1="1361.55" x2="1555.7" y2="1781.75"/>
<line x1="2064.7" y1="1361.55" x2="1631.9" y2="1781.75"/>
<line x1="2140.9" y1="1361.55" x2="1708.1" y2="1781.75"/>
<line x1="2217.1" y1="1361.55" x2="1784.3" y2="1781.75"/>
<line x1="2293.3" y1="1361.55" x2="1860.5" y2="1781.75"/>
<line x1="2369.5" y1="1361.55" x2="1936.7" y2="1781.75"/>
<line x1="2445.7" y1="1361.55" x2="2012.9" y2="1781.75"/>
<line x1="2521.9" y1="1361.55" x2="2089.1" y2="1781.75"/>
<line x1="2598.1" y1="1361.55" x2="2165.3" y2="1781.75"/>
<line x1="2674.3" y1="1361.55" x2="2241.5" y2="1781.75"/>
</g>
<rect x="2010.25" y="1391.55" width="187.5" height="360.2" fill="none" stroke="#000" stroke-width="3.9" stroke-linejoin="round"/>
<line x1="2008.3" y1="1567.3" x2="2199.7" y2="1567.3" stroke="#000" stroke-width="11.8" stroke-linecap="butt"/>
<line x1="2292.22" y1="1684.1" x2="2385.97" y2="1684.1" stroke="#000" stroke-width="3.9" stroke-linecap="round"/>
<line x1="2292.22" y1="1852.4" x2="2385.97" y2="1852.4" stroke="#000" stroke-width="3.9" stroke-linecap="round"/>
<rect x="2245.35" y="1685.85" width="187.5" height="165" fill="#8ee5ee" stroke="#000" stroke-width="3.9" stroke-linejoin="round"/>
<line x1="2243.4" y1="1797.2" x2="2434.8" y2="1797.2" stroke="#000" stroke-width="11.8" stroke-linecap="butt"/>
<text x="1629" y="1426" font-family='"Liberation Serif", "Times New Roman", Times, serif' font-size="63" font-weight="normal" text-anchor="middle">a</text>
<text x="1861.1" y="1545.5" font-family='"Liberation Serif", "Times New Roman", Times, serif' font-size="63" font-weight="normal" text-anchor="middle">ab</text>
<text x="2098" y="1329.2" font-family='"Liberation Serif", "Times New Roman", Times, serif' font-size="63" font-weight="normal" text-anchor="middle">a</text>
<text x="2330" y="1664.2" font-family='"Liberation Serif", "Times New Roman", Times, serif' font-size="63" font-weight="normal" text-anchor="middle">b</text>
<rect x="1500.45" y="2111.85" width="53.3" height="53.3" fill="#fff"/>
<rect x="1500.45" y="2111.85" width="53.3" height="53.3" fill="#fff"/>
<g clip-path="url(#c12)" stroke="#b4b4b4" stroke-width="19.45">
<line x1="1487.15" y1="2081.85" x2="1373.85" y2="2195.15"/>
<line x1="1563.35" y1="2081.85" x2="1450.05" y2="2195.15"/>
<line x1="1639.55" y1="2081.85" x2="1526.25" y2="2195.15"/>
<line x1="1715.75" y1="2081.85" x2="1602.45" y2="2195.15"/>
</g>
<rect x="1500.45" y="2111.85" width="53.3" height="53.3" fill="none" stroke="#111" stroke-width="2.7"/>
<rect x="1500.45" y="2202.95" width="53.3" height="53.3" fill="#bebebe" stroke="#111" stroke-width="2.7"/>
<text x="1570.1" y="2155.9" font-family='"Liberation Serif", "Times New Roman", Times, serif' font-size="63.5"><tspan font-size="76" dy="3.0" stroke="#fff" stroke-width="1.7">+ </tspan><tspan x="1625.3" dy="-3.0">AMF</tspan></text>
<text x="1570.6" y="2247.9" font-family='"Liberation Serif", "Times New Roman", Times, serif' font-size="63.5"><tspan dy="1.4">- </tspan><tspan x="1607.7" dy="-1.4">AMF</tspan></text>
<line x1="1982.5" y1="2289" x2="1982.5" y2="2331.7" stroke="#000" stroke-width="4" stroke-linecap="butt"/>
<text x="1762.1" y="2352.8" font-family='"Liberation Serif", "Times New Roman", Times, serif' font-size="63" font-weight="normal" text-anchor="middle">control</text>
<text x="2231.5" y="2352.8" font-family='"Liberation Serif", "Times New Roman", Times, serif' font-size="63" font-weight="normal" text-anchor="middle">flood</text>
<text x="1992.2" y="2419.7" font-family='"Liberation Serif", "Times New Roman", Times, serif' font-size="63" font-weight="normal" text-anchor="middle">Treatment</text>
</svg>
</body>
</html>
